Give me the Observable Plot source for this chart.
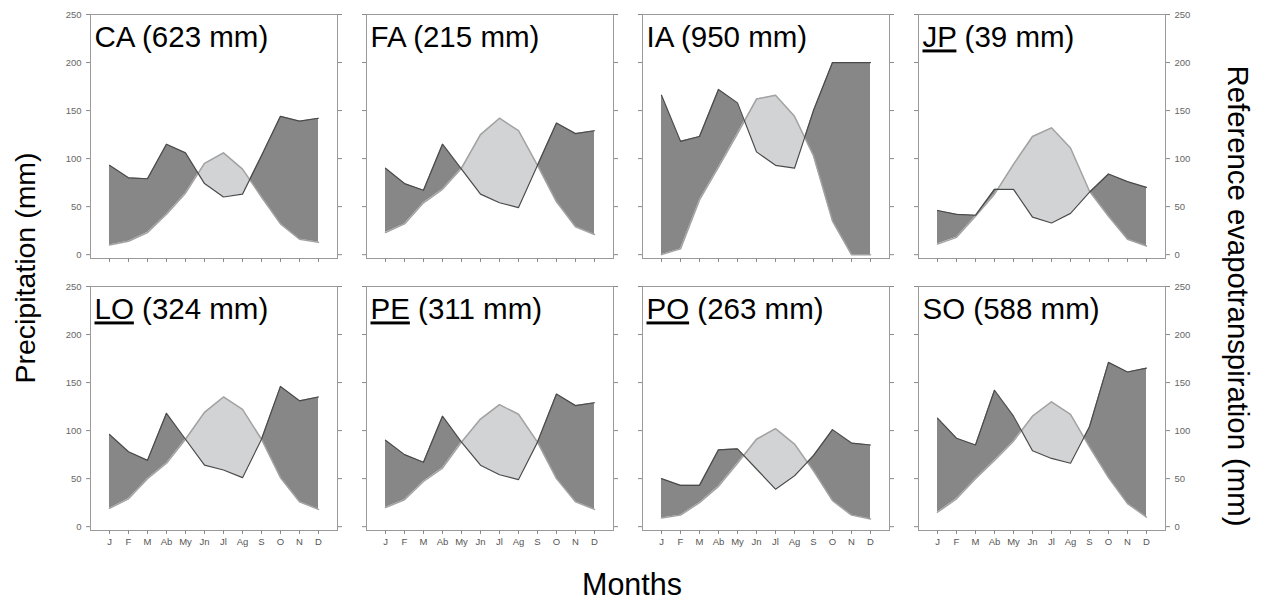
<!DOCTYPE html>
<html><head><meta charset="utf-8">
<script src="https://cdn.jsdelivr.net/npm/d3@7"></script>
<script src="https://cdn.jsdelivr.net/npm/@observablehq/plot@0.6"></script>
<style>
body{margin:0;background:#fff;}
#wrap{position:relative;width:1271px;height:602px;overflow:hidden;font-family:"Liberation Sans",Arial,sans-serif;}
.panel{position:absolute;}
.lab{position:absolute;color:#000;white-space:nowrap;line-height:1;}
</style></head><body><div id="wrap"></div>
<script>
const monthLabels = ["J","F","M","Ab","My","Jn","Jl","Ag","S","O","N","D"];
const siteCodes = ["CA","FA","IA","JP","LO","PE","PO","SO"];
const annualTotals = [623, 215, 950, 39, 324, 311, 263, 588];
const underlinedSites = ["JP","LO","PE","PO"];
const yTicks = [0, 50, 100, 150, 200, 250];

const precipCA = [93, 80, 79, 115, 106, 74, 60, 63, 103, 144, 139, 142];
const etCA     = [10, 14, 23, 42, 64, 95, 106, 89, 60, 32, 16, 13];
const precipFA = [90, 74, 67, 115, 89, 63, 54, 49, 93, 137, 126, 129];
const etFA     = [23, 32, 54, 68, 90, 125, 142, 129, 93, 55, 29, 21];
const precipIA = [166, 118, 123, 172, 158, 107, 93, 90, 150, 200, 200, 200];
const etIA     = [0, 6, 57, 91, 126, 162, 166, 144, 103, 35, 0, 0];
const precipJP = [46, 42, 41, 68, 68, 39, 33, 43, 65, 84, 76, 70];
const etJP     = [11, 18, 40, 63, 94, 123, 132, 111, 66, 40, 16, 9];
const precipLO = [96, 78, 69, 118, 91, 64, 59, 51, 91, 146, 131, 135];
const etLO     = [19, 29, 50, 66, 91, 119, 135, 122, 91, 51, 26, 18];
const precipPE = [90, 75, 67, 115, 88, 64, 54, 49, 88, 138, 126, 129];
const etPE     = [20, 28, 47, 61, 88, 112, 127, 117, 88, 50, 26, 18];
const precipPO = [50, 43, 43, 80, 81, 60, 39, 53, 74, 101, 87, 85];
const etPO     = [9, 12, 25, 42, 66, 91, 102, 86, 58, 27, 12, 8];
const precipSO = [113, 92, 85, 142, 115, 79, 71, 66, 104, 171, 161, 165];
const etSO     = [15, 29, 50, 69, 89, 115, 130, 117, 83, 51, 24, 10];

const precipBySite = [precipCA, precipFA, precipIA, precipJP, precipLO, precipPE, precipPO, precipSO];
const etBySite = [etCA, etFA, etIA, etJP, etLO, etPE, etPO, etSO];

const DARK = "#878787", LIGHT = "#d2d3d5";
const wrap = document.getElementById("wrap");

const frameLeft0 = 90, colStep = 276, frameW = 247, frameH = 244;
const frameTops = [14, 286];
const mL = 40, mR = 40, mT = 10, mB = 30;

function diffSegments(rows) {
  const out = []; let seg = 0;
  for (let i = 0; i < rows.length - 1; i++) {
    const a = rows[i], b = rows[i + 1];
    const da = a.p - a.et, db = b.p - b.et;
    if (da * db < 0) {
      const t = da / (da - db);
      const xm = a.m + t, ym = a.et + t * (b.et - a.et);
      out.push({m: a.m, p: a.p, et: a.et, seg, pos: da > 0});
      out.push({m: xm, p: ym, et: ym, seg, pos: da > 0}); seg++;
      out.push({m: xm, p: ym, et: ym, seg, pos: db > 0});
      out.push({m: b.m, p: b.p, et: b.et, seg, pos: db > 0}); seg++;
    } else {
      const pos = (da + db) >= 0;
      out.push({m: a.m, p: a.p, et: a.et, seg, pos});
      out.push({m: b.m, p: b.p, et: b.et, seg, pos}); seg++;
    }
  }
  return out;
}

siteCodes.forEach((code, k) => {
  const r = Math.floor(k / 4), c = k % 4;
  const rows = monthLabels.map((lab, i) => ({m: i, p: precipBySite[k][i], et: etBySite[k][i]}));
  const title = `${code} (${annualTotals[k]} mm)`;
  const fillMark = (typeof Plot.differenceY === "function")
    ? Plot.differenceY(rows, {x: "m", y1: "et", y2: "p", positiveFill: DARK, negativeFill: LIGHT, fillOpacity: 1, stroke: "none"})
    : Plot.areaY(diffSegments(rows), {x: "m", y1: "et", y2: "p", z: "seg", fill: d => d.pos ? DARK : LIGHT});
  const svg = Plot.plot({
    width: frameW + mL + mR, height: frameH + mT + mB,
    marginLeft: mL, marginRight: mR, marginTop: mT, marginBottom: mB,
    x: {domain: [-1, 12]},
    y: {domain: [-4, 250]},
    style: {background: "transparent", overflow: "visible", fontFamily: "'Liberation Sans', Arial, sans-serif", fontSize: "9.5px"},
    marks: [
      fillMark,
      Plot.line(rows, {x: "m", y: "et", stroke: "#a2a2a2", strokeWidth: 1.5}),
      Plot.line(rows, {x: "m", y: "p", stroke: "#4a4a4a", strokeWidth: 1.2}),
      Plot.frame({stroke: "#9a9a9a"}),
      Plot.axisY({anchor: "left", ticks: yTicks, tickSize: 4, tickPadding: 5, stroke: "#8a8a8a", fill: "#666", label: null,
        tickFormat: c === 0 ? (d => String(d)) : (() => "")}),
      Plot.axisY({anchor: "right", ticks: yTicks, tickSize: 4, tickPadding: 5, stroke: "#8a8a8a", fill: "#666", label: null,
        tickFormat: c === 3 ? (d => String(d)) : (() => "")}),
      Plot.axisX({anchor: "bottom", ticks: d3.range(12), tickSize: 4, tickPadding: 4, stroke: "#8a8a8a", fill: "#555", label: null,
        tickFormat: r === 1 ? (i => monthLabels[i]) : (() => "")}),
      Plot.text([title], {frameAnchor: "top-left", dx: 4, dy: 12, fontSize: 29.5, fill: "#000", text: d => d})
    ]
  });
  if (underlinedSites.includes(code)) {
    d3.select(svg).selectAll("text").filter(function() { return this.textContent === title; }).each(function() {
      const t = d3.select(this);
      t.text(null);
      t.append("tspan").style("text-decoration", "underline").attr("text-decoration", "underline").text(code);
      t.append("tspan").text(title.slice(code.length));
    });
  }
  svg.classList.add("panel");
  svg.style.left = (frameLeft0 + colStep * c - mL) + "px";
  svg.style.top = (frameTops[r] - mT) + "px";
  svg.style.position = "absolute";
  wrap.appendChild(svg);
});

function addLabel(text, cx, cy, rot, size) {
  const d = document.createElement("div");
  d.className = "lab";
  d.textContent = text;
  d.style.fontSize = size + "px";
  d.style.left = cx + "px";
  d.style.top = cy + "px";
  d.style.transform = `translate(-50%, -50%) rotate(${rot}deg)`;
  wrap.appendChild(d);
}
addLabel("Precipitation (mm)", 25, 268, -90, 28.5);
addLabel("Reference evapotranspiration (mm)", 1238, 296, 90, 29.3);
addLabel("Months", 632, 584, 0, 30.5);
</script></body></html>
